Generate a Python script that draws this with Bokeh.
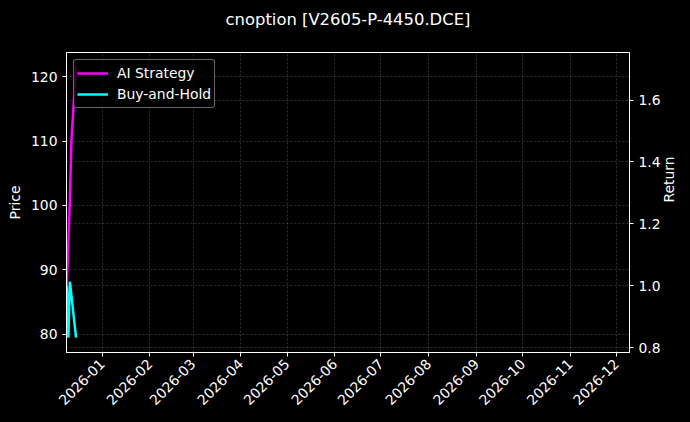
import math
import pandas as pd
from bokeh.plotting import figure
from bokeh.models import (Range1d, LinearAxis, FixedTicker, Grid, Legend, LegendItem,
                          ColumnDataSource, PrintfTickFormatter, Title)
from bokeh.embed import file_html
from bokeh.resources import INLINE

# ---- data ----
dates = ["2025-12-09", "2025-12-10", "2025-12-11", "2025-12-12", "2025-12-15"]
ai_strategy = [1.0, 1.14, 1.277, 1.47, 1.711]
buy_and_hold = [1.0, 0.832, 1.013, 0.968, 0.832]
x_tick_labels = ["2026-01", "2026-02", "2026-03", "2026-04", "2026-05", "2026-06",
                 "2026-07", "2026-08", "2026-09", "2026-10", "2026-11", "2026-12"]
price_ticks = [80, 90, 100, 110, 120]
return_ticks = [0.8, 1.0, 1.2, 1.4, 1.6]
x_start, x_end = "2025-12-08 19:00", "2026-12-09 10:00"
price_lim = (77.16, 123.77)
return_lim = (0.784, 1.754)
title_text = "cnoption [V2605-P-4450.DCE]"

FONT = "DejaVu Sans"
FS = "13.9px"

def ms(s):
    return pd.Timestamp(s).value / 1e6

src = ColumnDataSource(dict(x=[ms(d) for d in dates], ai=ai_strategy, bh=buy_and_hold))

p = figure(width=690, height=422, output_backend="svg", toolbar_location=None,
           title=None, x_axis_type="datetime",
           x_range=Range1d(ms(x_start), ms(x_end)),
           y_range=Range1d(*price_lim),
           background_fill_color="#000000", border_fill_color="#000000",
           min_border_left=66, min_border_right=61, min_border_top=52, min_border_bottom=70)
p.extra_y_ranges = {"ret": Range1d(*return_lim)}

# spacer (closest to the frame), then the real title above it
p.add_layout(Title(text=" ", text_font_size="1px", standoff=21, text_color="black"), "above")
p.add_layout(Title(text=title_text, align="center", vertical_align="bottom", text_color="white",
                   text_font=FONT, text_font_size="16.4px", text_font_style="normal",
                   standoff=0), "above")

p.outline_line_color = "white"
p.outline_line_width = 1

xticks = [ms(l + "-01") for l in x_tick_labels]
xax = p.xaxis[0]
xax.ticker = FixedTicker(ticks=xticks)
xax.major_label_overrides = {t: l for t, l in zip(xticks, x_tick_labels)}
xax.major_label_orientation = math.pi / 4

yax = p.yaxis[0]
yax.ticker = FixedTicker(ticks=price_ticks)
yax.axis_label = "Price"

rax = LinearAxis(y_range_name="ret", axis_label="Return",
                 ticker=FixedTicker(ticks=return_ticks),
                 formatter=PrintfTickFormatter(format="%.1f"))
rax.axis_label_orientation = math.pi / 2
p.add_layout(rax, "right")

for ax in [xax, yax, rax]:
    ax.axis_line_color = "white"
    ax.major_tick_line_color = "white"
    ax.minor_tick_line_color = None
    ax.major_tick_in = 0
    ax.major_tick_out = 4
    ax.major_label_text_color = "white"
    ax.major_label_text_font = FONT
    ax.major_label_text_font_size = FS
    ax.axis_label_text_color = "white"
    ax.axis_label_text_font = FONT
    ax.axis_label_text_font_size = FS
    ax.axis_label_text_font_style = "normal"

for g in [p.xgrid[0], p.ygrid[0]]:
    g.grid_line_color = "white"
    g.grid_line_alpha = 0.3
    g.grid_line_dash = "2 2"
    g.grid_line_width = 0.6
p.xgrid[0].ticker = xax.ticker
p.ygrid[0].ticker = yax.ticker

rgrid = Grid(dimension=1, ticker=rax.ticker, y_range_name="ret",
             grid_line_color="white", grid_line_alpha=0.3, grid_line_dash="2 2",
             grid_line_width=0.6)
p.add_layout(rgrid)

r1 = p.line("x", "ai", source=src, y_range_name="ret", line_color="#ff00ff", line_width=2.5)
r2 = p.line("x", "bh", source=src, y_range_name="ret", line_color="#00ffff", line_width=2.5)

legend = Legend(items=[LegendItem(label="AI Strategy", renderers=[r1]),
                       LegendItem(label="Buy-and-Hold", renderers=[r2])],
                location="top_left", margin=7, padding=3, spacing=1,
                label_height=20, glyph_height=20, glyph_width=31, label_standoff=9,
                label_text_color="white", label_text_font=FONT, label_text_font_size=FS,
                background_fill_color="black", background_fill_alpha=0.8,
                border_line_color="#cccccc", border_line_width=1,
                border_radius=3)
p.add_layout(legend)

html = file_html(p, INLINE)
html = html.replace("<head>", "<head><style>html,body{background:#000000;}</style>", 1)
open("out.html", "w").write(html)
